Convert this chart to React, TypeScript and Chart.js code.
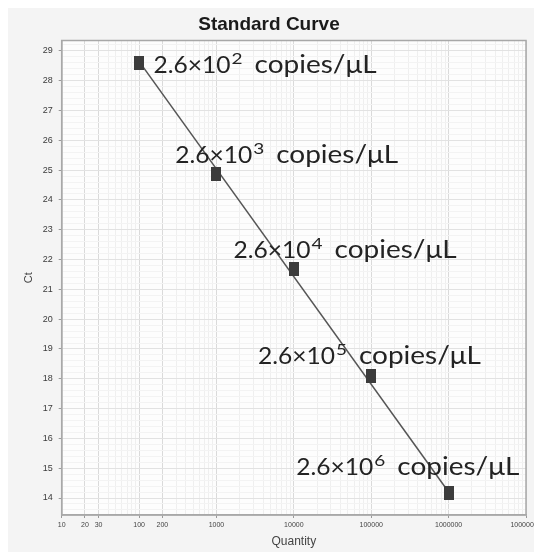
import React, { useEffect, useRef } from 'react';
import { Chart, registerables } from 'chart.js';

Chart.register(...registerables);

// ---- data ----
const quantities = [100, 1000, 10000, 100000, 1000000];
const ctValues = [28.6, 24.86, 21.67, 18.08, 14.18];
const labelMantissa = '2.6×10';
const labelExponents = ['2', '3', '4', '5', '6'];
const labelUnit = 'copies/μL';
const fitLineQuantities = [100, 1000000];
const fitLineCt = [28.65, 14.2];
const xTickLabels = [10, 20, 30, 100, 200, 1000, 10000, 100000, 1000000, 10000000];
const yTickLabels = [14, 15, 16, 17, 18, 19, 20, 21, 22, 23, 24, 25, 26, 27, 28, 29];
const X_MIN = 10;
const X_MAX = 10000000;
const Y_MIN = 13.43;
const Y_MAX = 29.35;

// ---- label placement (pixel offsets from each point) ----
const labelOffsets: [number, number][] = [
  [14.5, 10],
  [-41.3, -11.7],
  [-60.3, -11.7],
  [-113.3, -12],
  [-152.3, -18],
];
const LABEL_FONT = 'Lato';
const MANTISSA_SIZE = 24;
const MANTISSA_WIDTH = 77;
const EXP_SIZE = 16;
const EXP_OFFSET = 78;
const EXP_WIDTH = 11;
const EXP_RISE = 9;
const UNIT_SIZE = 25;
const UNIT_OFFSET = 101;
const UNIT_WIDTH = 122;

const isXLabeled = (v: number) => xTickLabels.some((t) => Math.abs(t - v) / t < 1e-6);
const isYLabeled = (v: number) => yTickLabels.some((t) => Math.abs(t - v) < 1e-6);

const backgroundPlugin = {
  id: 'bgPlugin',
  beforeDraw(chart: any) {
    const { ctx, chartArea } = chart;
    ctx.save();
    ctx.fillStyle = '#f4f4f4';
    ctx.fillRect(0, 0, chart.width, chart.height);
    ctx.fillStyle = '#fdfdfd';
    ctx.fillRect(chartArea.left, chartArea.top, chartArea.right - chartArea.left, chartArea.bottom - chartArea.top);
    ctx.restore();
  },
  afterDraw(chart: any) {
    const { ctx, chartArea } = chart;
    ctx.save();
    ctx.strokeStyle = '#a8a8a8';
    ctx.lineWidth = 1.5;
    ctx.strokeRect(chartArea.left, chartArea.top, chartArea.right - chartArea.left, chartArea.bottom - chartArea.top);
    ctx.restore();
  },
};

function drawStretched(ctx: CanvasRenderingContext2D, text: string, x: number, y: number, size: number, width: number) {
  ctx.font = `${size}px ${LABEL_FONT}`;
  const w = ctx.measureText(text).width || 1;
  ctx.save();
  ctx.translate(x, y);
  ctx.scale(width / w, 1);
  ctx.fillText(text, 0, 0);
  ctx.restore();
}

const labelPlugin = {
  id: 'copyLabels',
  afterDatasetsDraw(chart: any) {
    const { ctx } = chart;
    const xs = chart.scales.x;
    const ys = chart.scales.y;
    ctx.save();
    ctx.fillStyle = '#232323';
    ctx.textBaseline = 'alphabetic';
    ctx.textAlign = 'left';
    quantities.forEach((q, i) => {
      const px = xs.getPixelForValue(q) + labelOffsets[i][0];
      const py = ys.getPixelForValue(ctValues[i]) + labelOffsets[i][1];
      drawStretched(ctx, labelMantissa, px, py, MANTISSA_SIZE, MANTISSA_WIDTH);
      drawStretched(ctx, labelExponents[i], px + EXP_OFFSET, py - EXP_RISE, EXP_SIZE, EXP_WIDTH);
      drawStretched(ctx, labelUnit, px + UNIT_OFFSET, py, UNIT_SIZE, UNIT_WIDTH);
    });
    ctx.restore();
  },
};

export default function App() {
  const canvasRef = useRef<HTMLCanvasElement | null>(null);

  useEffect(() => {
    document.body.style.margin = '8px 0 0 8px';
    document.documentElement.style.overflow = 'hidden';
    const canvas = canvasRef.current;
    if (!canvas) return;

    const marker = document.createElement('canvas');
    marker.width = 10;
    marker.height = 14;
    const mctx = marker.getContext('2d')!;
    mctx.fillStyle = '#3c3c3c';
    mctx.fillRect(0, 0, 10, 14);

    const xTickValues: number[] = [];
    for (let k = 1; k <= 6; k++) {
      for (let m = 1; m <= 9; m++) xTickValues.push(m * Math.pow(10, k));
    }
    xTickValues.push(X_MAX);

    const yTickValues: number[] = [];
    for (let i = Math.ceil(Y_MIN * 5); i <= Math.floor(Y_MAX * 5); i++) yTickValues.push(i / 5);

    const chart = new Chart(canvas, {
      type: 'scatter',
      data: {
        datasets: [
          {
            data: quantities.map((q, i) => ({ x: q, y: ctValues[i] })),
            pointStyle: marker as any,
            pointRadius: 7,
            showLine: false,
          },
          {
            data: fitLineQuantities.map((q, i) => ({ x: q, y: fitLineCt[i] })),
            showLine: true,
            borderColor: '#555555',
            borderWidth: 1.5,
            pointRadius: 0,
          },
        ],
      },
      options: {
        responsive: false,
        animation: false,
        events: [],
        layout: { padding: { left: 0, right: 4, top: 0, bottom: 0 } },
        plugins: {
          legend: { display: false },
          tooltip: { enabled: false },
          title: {
            display: true,
            text: 'Standard Curve',
            color: '#1a1a1a',
            font: { family: 'Liberation Sans', size: 19, weight: 'bold' },
            padding: { top: 5, bottom: 4.7 },
          },
        },
        scales: {
          x: {
            type: 'logarithmic',
            min: X_MIN,
            max: X_MAX,
            afterBuildTicks: (scale: any) => {
              scale.ticks = xTickValues.map((v) => ({ value: v }));
            },
            afterFit: (scale: any) => {
              scale.height = 37;
              scale.paddingLeft = 0;
              scale.paddingRight = 0;
            },
            ticks: {
              autoSkip: false,
              maxRotation: 0,
              minRotation: 0,
              padding: 3,
              color: '#444',
              font: { family: 'Liberation Sans', size: 7 },
              callback: (v: any) => (isXLabeled(Number(v)) ? String(v) : ''),
            },
            grid: {
              color: (c: any) => (c.tick && isXLabeled(c.tick.value) ? '#dadada' : '#efefef'),
              tickColor: (c: any) => (c.tick && isXLabeled(c.tick.value) ? '#999' : 'rgba(0,0,0,0)'),
              tickLength: 3,
              lineWidth: 1,
            },
            border: { display: true, color: '#a8a8a8', width: 1.5 },
            title: {
              display: true,
              text: 'Quantity',
              color: '#444',
              font: { family: 'Liberation Sans', size: 12 },
              padding: { top: 0, bottom: 3.5 },
            },
          },
          y: {
            type: 'linear',
            min: Y_MIN,
            max: Y_MAX,
            afterBuildTicks: (scale: any) => {
              scale.ticks = yTickValues.map((v) => ({ value: v }));
            },
            afterFit: (scale: any) => {
              scale.width = 53.7;
              scale.paddingTop = 0;
              scale.paddingBottom = 0;
            },
            ticks: {
              autoSkip: false,
              padding: 6,
              color: '#3a3a3a',
              font: { family: 'Liberation Sans', size: 9 },
              callback: (v: any) => (isYLabeled(Number(v)) ? String(Math.round(Number(v))) : ''),
            },
            grid: {
              color: (c: any) => (c.tick && isYLabeled(c.tick.value) ? '#e2e2e2' : '#f3f3f3'),
              tickColor: (c: any) => (c.tick && isYLabeled(c.tick.value) ? '#999' : 'rgba(0,0,0,0)'),
              tickLength: 3,
              lineWidth: 1,
            },
            border: { display: true, color: '#a8a8a8', width: 1.5 },
            title: {
              display: true,
              text: 'Ct',
              color: '#444',
              font: { family: 'Liberation Sans', size: 11 },
              padding: { top: 14.4, bottom: 0 },
            },
          },
        },
      },
      plugins: [backgroundPlugin, labelPlugin],
    } as any);

    return () => chart.destroy();
  }, []);

  return (
    <div style={{ width: 526, height: 544 }}>
      <canvas ref={canvasRef} width={526} height={544} style={{ display: 'block' }} />
    </div>
  );
}
